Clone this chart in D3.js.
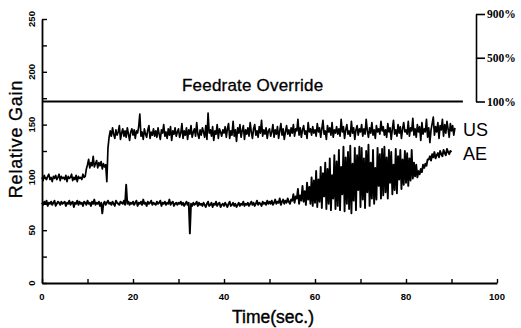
<!DOCTYPE html>
<html>
<head>
<meta charset="utf-8">
<script src="https://cdn.jsdelivr.net/npm/d3@7"></script>
<style>
  html, body { margin: 0; padding: 0; background: #fff; }
  svg { display: block; }
  text { fill: #000; }
</style>
</head>
<body>
<svg id="chart" width="521" height="328"></svg>
<script>
// ---------------- data ----------------
const xTicks = [0, 20, 40, 60, 80, 100];
const yTicks = [0, 50, 100, 150, 200, 250];
const overrideTicks = [100, 500, 900];

// US signal, sampled every 0.25 s starting at t = 0
const usStep = 0.25;
const usValues = [
  100, 97, 102, 99, 98, 101, 103, 98, 100, 96, 101, 99, 102, 98, 100, 103, 97, 101, 99, 100,
  98, 102, 96, 101, 99, 100, 103, 97, 100, 98, 102, 96, 101, 99, 100, 98, 103, 100, 101, 108,
  112, 117, 109, 114, 111, 120, 110, 113, 116, 109, 114, 111, 115, 108, 113, 110, 112, 96, 128, 138,
  144, 139, 147, 141, 137, 145, 140, 143, 149, 136, 142, 146, 139, 144, 138, 147, 141, 135, 143, 146,
  140, 145, 137, 144, 142, 148, 160, 139, 143, 136, 146, 141, 138, 145, 149, 137, 143, 140, 146, 139,
  144, 138, 147, 141, 136, 145, 142, 150, 139, 143, 137, 146, 140, 148, 135, 144, 141, 147, 139, 143,
  146, 138, 142, 151, 137, 144, 140, 147, 136, 145, 141, 149, 138, 143, 146, 139, 152, 141, 137, 145,
  140, 147, 143, 138, 149, 136, 161, 142, 145, 139, 148, 135, 144, 141, 150, 137, 146, 143, 139, 145,
  142, 148, 138, 146, 151, 137, 144, 140, 153, 139, 145, 134, 147, 142, 150, 138, 144, 149, 136, 145,
  141, 147, 139, 152, 143, 137, 146, 150, 140, 144, 138, 148, 142, 154, 139, 145, 141, 147, 137, 144,
  146, 139, 143, 150, 138, 145, 141, 148, 137, 144, 151, 140, 146, 136, 143, 149, 141, 145, 139, 147,
  142, 150, 139, 146, 144, 155, 140, 147, 138, 145, 149, 141, 144, 137, 152, 143, 146, 140, 148, 142,
  145, 139, 151, 143, 147, 138, 146, 154, 141, 144, 136, 149, 143, 147, 140, 152, 138, 145, 142, 148,
  141, 146, 139, 155, 143, 148, 137, 145, 150, 141, 144, 139, 153, 142, 147, 136, 145, 149, 140, 146,
  143, 150, 139, 146, 141, 155, 144, 138, 147, 142, 152, 140, 145, 137, 149, 143, 146, 141, 153, 144,
  148, 140, 145, 138, 151, 143, 147, 136, 146, 154, 141, 145, 139, 150, 142, 148, 137, 146, 152, 143,
  145, 141, 153, 139, 147, 144, 156, 140, 146, 138, 150, 143, 148, 135, 152, 141, 146, 143, 155, 138,
  147, 133, 145, 151, 157, 140, 148, 143, 152, 137, 149, 145, 155, 139, 150, 142, 153, 146, 138, 151,
  144, 149, 140, 147
];

// AE signal, sampled every 0.25 s starting at t = 0
const aeStep = 0.25;
const aeValues = [
  76, 74, 77, 75, 78, 73, 76, 75, 77, 74, 76, 78, 73, 75, 77, 76, 74, 77, 75, 76,
  77, 73, 76, 75, 78, 74, 76, 77, 72, 76, 75, 78, 74, 77, 75, 76, 73, 77, 76, 74,
  78, 75, 76, 73, 77, 75, 79, 74, 76, 75, 77, 73, 76, 66, 75, 77, 74, 76, 78, 75,
  76, 74, 77, 75, 73, 78, 76, 75, 74, 77, 76, 75, 78, 74, 93, 75, 77, 74, 76, 75,
  77, 74, 76, 78, 73, 76, 75, 77, 74, 79, 75, 76, 73, 77, 75, 76, 78, 74, 76, 75,
  74, 77, 75, 76, 78, 73, 76, 75, 77, 74, 76, 75, 79, 74, 76, 77, 73, 75, 76, 74,
  76, 75, 77, 74, 76, 73, 75, 77, 74, 76, 47, 75, 73, 76, 74, 75, 77, 73, 76, 74,
  75, 73, 76, 74, 72, 75, 77, 73, 74, 76, 72, 75, 74, 77, 73, 75, 76, 72, 74, 75,
  73, 76, 74, 72, 75, 77, 73, 74, 76, 73, 75, 72, 74, 76, 73, 75, 74, 77, 73, 75,
  74, 76, 73, 75, 77, 74, 76, 73, 75, 78, 74, 76, 75, 73, 77, 75, 76, 74, 78, 75,
  77, 75, 78, 74, 76, 79, 75, 77, 76, 80, 74, 77, 79, 75, 78, 76, 80, 77, 75, 79,
  78, 84, 76, 82, 80, 89, 75, 83, 78, 92, 77, 87, 74, 95, 79, 91, 75, 100, 73, 97,
  76, 106, 72, 98, 77, 110, 71, 104, 82, 114, 70, 108, 75, 118, 69, 102, 80, 121, 70, 115,
  73, 126, 69, 110, 84, 129, 68, 119, 75, 124, 70, 130, 66, 113, 78, 128, 69, 121, 88, 129,
  72, 128, 79, 118, 71, 125, 86, 131, 73, 114, 80, 126, 75, 109, 79, 128, 92, 122, 80, 127,
  83, 129, 86, 119, 80, 126, 95, 124, 84, 112, 88, 127, 85, 120, 98, 126, 89, 117, 93, 125,
  95, 123, 92, 118, 97, 126, 99, 114, 101, 112, 100, 106, 103, 108, 105, 112, 109, 113, 111, 117,
  117, 120, 116, 122, 119, 124, 118, 121, 123, 119, 125, 122, 120, 126, 123, 121, 127, 124, 122, 125,
  124
];

// Feedrate override (percent) over time
const feedrateTimes = [0, 92.5];
const feedrateValues = [100, 100];

// ---------------- drawing ----------------
const svg = d3.select("#chart");
const x = d3.scaleLinear().domain([0, 100]).range([42, 497]);
const y = d3.scaleLinear().domain([0, 250]).range([283, 19]);
const yOverride = d3.scaleLinear().domain([100, 900]).range([101.5, 14]);

const sans = "'Liberation Sans', Arial, Helvetica, sans-serif";

// X axis (ticks inward / upward)
const xAxis = d3.axisBottom(x)
  .tickValues(d3.range(0, 101, 10))
  .tickSizeInner(-4).tickSizeOuter(0)
  .tickFormat("");
svg.append("g").attr("transform", "translate(0,283)").call(xAxis)
  .call(g => g.select(".domain").attr("stroke", "#000").attr("stroke-width", 1.8))
  .call(g => g.selectAll(".tick line").attr("stroke", "#000").attr("stroke-width", 1.4));

svg.append("g").selectAll("text").data(xTicks).join("text")
  .attr("x", d => x(d)).attr("y", 300)
  .attr("text-anchor", "middle")
  .attr("font-family", sans).attr("font-weight", "bold").attr("font-size", 9.5)
  .text(d => d);

// Y axis (ticks inward / rightward)
const yAxis = d3.axisLeft(y)
  .tickValues(d3.range(0, 251, 25))
  .tickSizeInner(-5).tickSizeOuter(0)
  .tickFormat("");
svg.append("g").attr("transform", "translate(42,0)").call(yAxis)
  .call(g => g.select(".domain").attr("stroke", "#000").attr("stroke-width", 1.8))
  .call(g => g.selectAll(".tick line").attr("stroke", "#000").attr("stroke-width", 1.4));

svg.append("g").selectAll("text").data(yTicks).join("text")
  .attr("transform", d => `translate(35,${y(d)}) rotate(-90)`)
  .attr("text-anchor", "middle")
  .attr("font-family", sans).attr("font-weight", "bold").attr("font-size", 9.5)
  .text(d => d);

// Feedrate override line and its bracket scale
const feedLine = d3.line()
  .x((d, i) => x(feedrateTimes[i]))
  .y(d => yOverride(d));
svg.append("path").datum(feedrateValues)
  .attr("d", feedLine)
  .attr("fill", "none").attr("stroke", "#000").attr("stroke-width", 1.8);

const oAxis = d3.axisRight(yOverride)
  .tickValues(overrideTicks)
  .tickSizeInner(9).tickSizeOuter(0).tickPadding(2)
  .tickFormat(d => d + "%");
svg.append("g").attr("transform", "translate(476,0)").call(oAxis)
  .call(g => g.select(".domain").attr("stroke", "#000").attr("stroke-width", 1.6))
  .call(g => g.selectAll(".tick line").attr("stroke", "#000").attr("stroke-width", 1.6))
  .call(g => g.selectAll(".tick text")
    .attr("fill", "#000")
    .attr("font-family", "'Liberation Serif', 'DejaVu Serif', serif")
    .attr("font-weight", "bold").attr("font-size", 11.5));

// Signals
const usLine = d3.line()
  .x((d, i) => x(i * usStep))
  .y(d => y(d));
const aeLine = d3.line()
  .x((d, i) => x(i * aeStep))
  .y(d => y(d));

svg.append("path").datum(aeValues)
  .attr("d", aeLine)
  .attr("fill", "none").attr("stroke", "#000").attr("stroke-width", 1.9)
  .attr("stroke-linejoin", "round");
svg.append("path").datum(usValues)
  .attr("d", usLine)
  .attr("fill", "none").attr("stroke", "#000").attr("stroke-width", 1.7)
  .attr("stroke-linejoin", "round");

// Labels
svg.append("text").attr("x", 182).attr("y", 91)
  .attr("font-family", sans).attr("font-size", 17).attr("letter-spacing", 0.2)
  .attr("stroke", "#000").attr("stroke-width", 0.3)
  .text("Feedrate  Override");

svg.append("text").attr("transform", "translate(22,139) rotate(-90)")
  .attr("text-anchor", "middle")
  .attr("font-family", sans).attr("font-size", 18).attr("letter-spacing", 0.8)
  .attr("stroke", "#000").attr("stroke-width", 0.3)
  .text("Relative Gain");

svg.append("text").attr("x", 273).attr("y", 323)
  .attr("text-anchor", "middle")
  .attr("font-family", sans).attr("font-size", 17.5)
  .attr("stroke", "#000").attr("stroke-width", 0.4)
  .text("Time(sec.)");

svg.append("text").attr("x", 463).attr("y", 136)
  .attr("font-family", sans).attr("font-size", 18)
  .text("US");
svg.append("text").attr("x", 463).attr("y", 160)
  .attr("font-family", sans).attr("font-size", 18)
  .text("AE");
</script>
</body>
</html>
